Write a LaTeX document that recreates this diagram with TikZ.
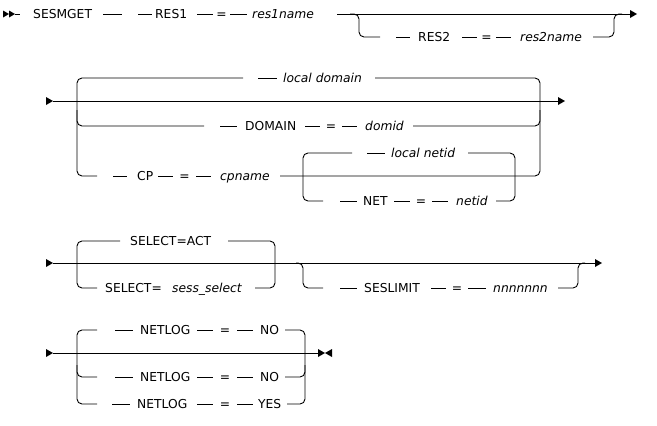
\documentclass[tikz,border=0pt]{standalone}
\usepackage{fontspec}
\setmainfont{DejaVu Sans}
\begin{document}
\begin{tikzpicture}[x=1pt,y=-1pt,
  ln/.style={line width=0.9pt},
  rc/.style={ln,rounded corners=5pt},
  kw/.style={anchor=base west,inner sep=0pt,font=\fontsize{12.3}{14}\selectfont},
  eqs/.style={anchor=base,inner sep=0pt,font=\fontsize{12.3}{14}\selectfont},
  var/.style={anchor=base west,inner sep=0pt,font=\fontsize{12.3}{14}\selectfont\itshape}]
\useasboundingbox (0,0) rectangle (657,426);
\newcommand\hseg[3]{\draw[ln] (#1,#3) -- (#2,#3);}
\newcommand\rtri[2]{\fill (#1,#2-4) -- (#1+7,#2) -- (#1,#2+4) -- cycle;}
% ---------- row 1 ----------
\fill (3,10.5) -- (9,14) -- (3,17.5) -- cycle;
\fill (9,10.5) -- (15,14) -- (9,17.5) -- cycle;
\hseg{15}{20}{14}
\node[kw] (sesmget) at (33,18.5) {SESMGET};
\hseg{103}{122}{14}
\hseg{138}{152}{14}
\node[kw] (res1) at (155,18.5) {RES1};
\hseg{197}{213}{14}
\node[eqs] (eq1) at (221.5,18.5) {=};
\hseg{230}{247}{14}
\node[var] (res1name) at (252,18.5) {res1name};
\hseg{337}{630}{14}
\rtri{630}{14}
\draw[rc] (350,14) -- (359,14) -- (359,37) -- (380,37);
\hseg{396}{410}{37}
\node[kw] (res2) at (418,41.5) {RES2};
\hseg{462}{477}{37}
\node[eqs] (eq2) at (486.5,41.5) {=};
\hseg{496}{511}{37}
\node[var] (res2name) at (520,41.5) {res2name};
\draw[rc] (593,37) -- (614,37) -- (614,14) -- (622,14);
% ---------- row 2 ----------
\rtri{46}{101}
\hseg{53}{558}{101}
\rtri{558}{101}
\draw[rc] (243,78) -- (77,78) -- (77,176) -- (97,176);
\draw[rc] (77,110) -- (77,126) -- (204,126);
\hseg{258}{277}{78}
\node[var] (localdomain) at (283,82.5) {local domain};
\draw[rc] (375,78) -- (540,78) -- (540,176) -- (280,176);
\draw[rc] (413,126) -- (540,126) -- (540,110);
\hseg{220}{237}{126}
\node[kw] (domain) at (245,130.5) {DOMAIN};
\hseg{305}{320}{126}
\node[eqs] (eq3) at (331,130.5) {=};
\hseg{342}{357}{126}
\node[var] (domid) at (365,130.5) {domid};
\hseg{113}{127}{176}
\node[kw] (cp) at (137,180.5) {CP};
\hseg{158}{173}{176}
\node[eqs] (eq4) at (184.5,180.5) {=};
\hseg{196}{211}{176}
\node[var] (cpname) at (220,180.5) {cpname};
\draw[rc] (352,153) -- (303,153) -- (303,201) -- (323,201);
\hseg{367}{385}{153}
\node[var] (localnetid) at (391,157.5) {local netid};
\draw[rc] (468,153) -- (515,153) -- (515,201) -- (496,201);
\hseg{340}{357}{201}
\node[kw] (net) at (363,205.5) {NET};
\hseg{394}{410}{201}
\node[eqs] (eq5) at (421,205.5) {=};
\hseg{432}{448}{201}
\node[var] (netid) at (456,205.5) {netid};
% ---------- row 3 ----------
\rtri{46}{263}
\hseg{53}{595}{263}
\rtri{595}{263}
\draw[rc] (120,241) -- (77,241) -- (77,288) -- (97,288);
\node[kw] (selact) at (130,245.5) {SELECT=ACT};
\draw[rc] (228,241) -- (275,241) -- (275,288) -- (255,288);
\node[kw] (sel) at (105,292.5) {SELECT=};
\node[var] (sesssel) at (172,292.5) {sess\_select};
\draw[rc] (296,263) -- (303,263) -- (303,288) -- (323,288);
\hseg{340}{357}{288}
\node[kw] (seslimit) at (364,292.5) {SESLIMIT};
\hseg{431}{446}{288}
\node[eqs] (eq6) at (457,292.5) {=};
\hseg{468}{486}{288}
\node[var] (nnn) at (493,292.5) {nnnnnnn};
\draw[rc] (558,288) -- (578,288) -- (578,263) -- (585,263);
% ---------- row 4 ----------
\rtri{46}{353}
\hseg{53}{318}{353}
\fill (318,349) -- (325,353) -- (318,357) -- cycle;
\fill (332,349) -- (325,353) -- (332,357) -- cycle;
\draw[rc] (97,330) -- (77,330) -- (77,404) -- (97,404);
\draw[rc] (77,365) -- (77,377) -- (97,377);
\draw[rc] (285,330) -- (305,330) -- (305,404) -- (287,404);
\draw[rc] (285,377) -- (305,377) -- (305,365);
\hseg{115}{133}{330}
\node[kw] (netlog1) at (140,334.5) {NETLOG};
\hseg{197}{213}{330}
\node[eqs] (eq7) at (225,334.5) {=};
\hseg{237}{253}{330}
\node[kw] (no1) at (260,334.5) {NO};
\hseg{115}{133}{377}
\node[kw] (netlog2) at (140,381.5) {NETLOG};
\hseg{197}{213}{377}
\node[eqs] (eq8) at (225,381.5) {=};
\hseg{237}{253}{377}
\node[kw] (no2) at (260,381.5) {NO};
\hseg{112}{130}{404}
\node[kw] (netlog3) at (137,408.5) {NETLOG};
\hseg{197}{213}{404}
\node[eqs] (eq9) at (225,408.5) {=};
\hseg{237}{253}{404}
\node[kw] (yes) at (258,408.5) {YES};
\end{tikzpicture}
\end{document}
